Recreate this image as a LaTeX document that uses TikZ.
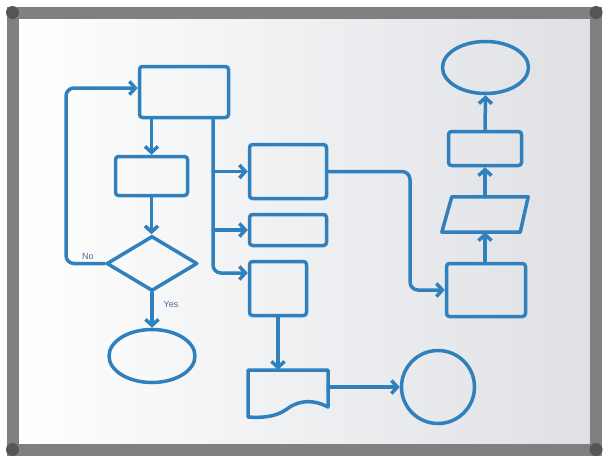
\documentclass[tikz,border=0pt]{standalone}
\usepackage{fontspec}
\setsansfont{Liberation Sans}
\usetikzlibrary{shapes.geometric,arrows.meta,calc}
\definecolor{marker}{RGB}{47,128,189}
\definecolor{framec}{RGB}{128,128,128}
\definecolor{knob}{RGB}{85,85,85}
\definecolor{board}{RGB}{222,224,228}
\definecolor{lbl}{RGB}{80,108,148}
\begin{document}
\begin{tikzpicture}[x=1pt,y=-1pt,
  ink/.style={draw=marker,line width=3.5pt,line join=round,line cap=round},
  boxs/.style={ink,rectangle,rounded corners=3pt,inner sep=0pt},
  flow/.style={ink,-{Straight Barb[length=6pt,width=13pt]}},
  lbltext/.style={text=lbl,font=\sffamily\fontsize{9}{10}\selectfont,inner sep=1pt}
]
\useasboundingbox (0,0) rectangle (604,459);
\fill[white] (0,0) rectangle (604,459);
% whiteboard
\shade[left color=white,middle color=white!85!board,right color=board] (12,12) rectangle (596,450);
\draw[framec,line width=12pt] (12.5,12.5) rectangle (596,449.5);
\foreach \p in {(12.5,12.5),(596,12.5),(12.5,449.5),(596,449.5)}
  \fill[knob] \p circle[radius=6.5pt];

% nodes
\node[boxs,minimum width=89pt,minimum height=51pt] (A) at (184,92) {};
\node[boxs,minimum width=72pt,minimum height=39pt] (B) at (151.5,176) {};
\node[ink,diamond,inner sep=0pt,minimum width=91pt,minimum height=55pt] (dia) at (152,263.5) {};
\node[ink,ellipse,inner sep=0pt,minimum width=86pt,minimum height=53pt] (J) at (152,356) {};
\node[boxs,minimum width=77pt,minimum height=54pt] (C) at (288,171.5) {};
\node[boxs,minimum width=77pt,minimum height=31pt] (D) at (288,230) {};
\node[boxs,minimum width=57pt,minimum height=54pt] (E) at (278,288.5) {};
\node[inner sep=0pt,minimum width=80pt,minimum height=40pt] (K) at (288,390) {};
\draw[ink] (248,417) -- (248,370) -- (328,370) -- (328,407)
  .. controls (315,400) and (300,399) .. (287,409)
  .. controls (276,417) and (262,418) .. (248,417) -- cycle;
\node[ink,circle,inner sep=0pt,minimum size=73pt] (L) at (438,387) {};
\node[boxs,minimum width=79pt,minimum height=53pt] (F) at (486,290) {};
\node[inner sep=0pt,minimum width=86pt,minimum height=35pt] (G) at (485,214.5) {};
\draw[ink] (G.south west) -- ($(G.north west)+(10,0)$) -- (G.north east)
  -- ($(G.south east)+(-8,0)$) -- cycle;
\node[boxs,minimum width=73pt,minimum height=34pt] (H) at (485,148.5) {};
\node[ink,ellipse,inner sep=0pt,minimum width=86pt,minimum height=52pt] (I) at (485.5,67.5) {};

% labels
\node[lbltext] (no) at (88,256) {No};
\node[lbltext] (yes) at (171,304) {Yes};

% connectors
\coordinate (lp) at (66,88);
\coordinate (tr) at (213,273);
\coordinate (cf) at (410,230);
\draw[flow] (A.south -| B.north) -- (B.north);
\draw[flow] (B.south) -- (B.south |- dia.north);
\draw[flow,rounded corners=8pt] (dia.west) -| (lp) -- (A.west |- lp);
\draw[flow] (dia.south) -- (J.north);
\draw[flow,rounded corners=8pt] (A.south -| tr) -- (tr) -- (E.west |- tr);
\draw[flow] (tr |- C.west) -- (C.west);
\draw[flow] (tr |- D.west) -- (D.west);
\draw[flow,rounded corners=8pt] (C.east) -| (cf) |- (F.west);
\draw[flow] (E.south) -- (E.south |- K.north);
\draw[flow] (K.east |- L.west) -- (L.west);
\draw[flow] (F.north -| H.south) -- (G.south -| H.south);
\draw[flow] (G.north -| H.south) -- (H.south);
\draw[flow] (H.north) -- (I.south);
\end{tikzpicture}
\end{document}
